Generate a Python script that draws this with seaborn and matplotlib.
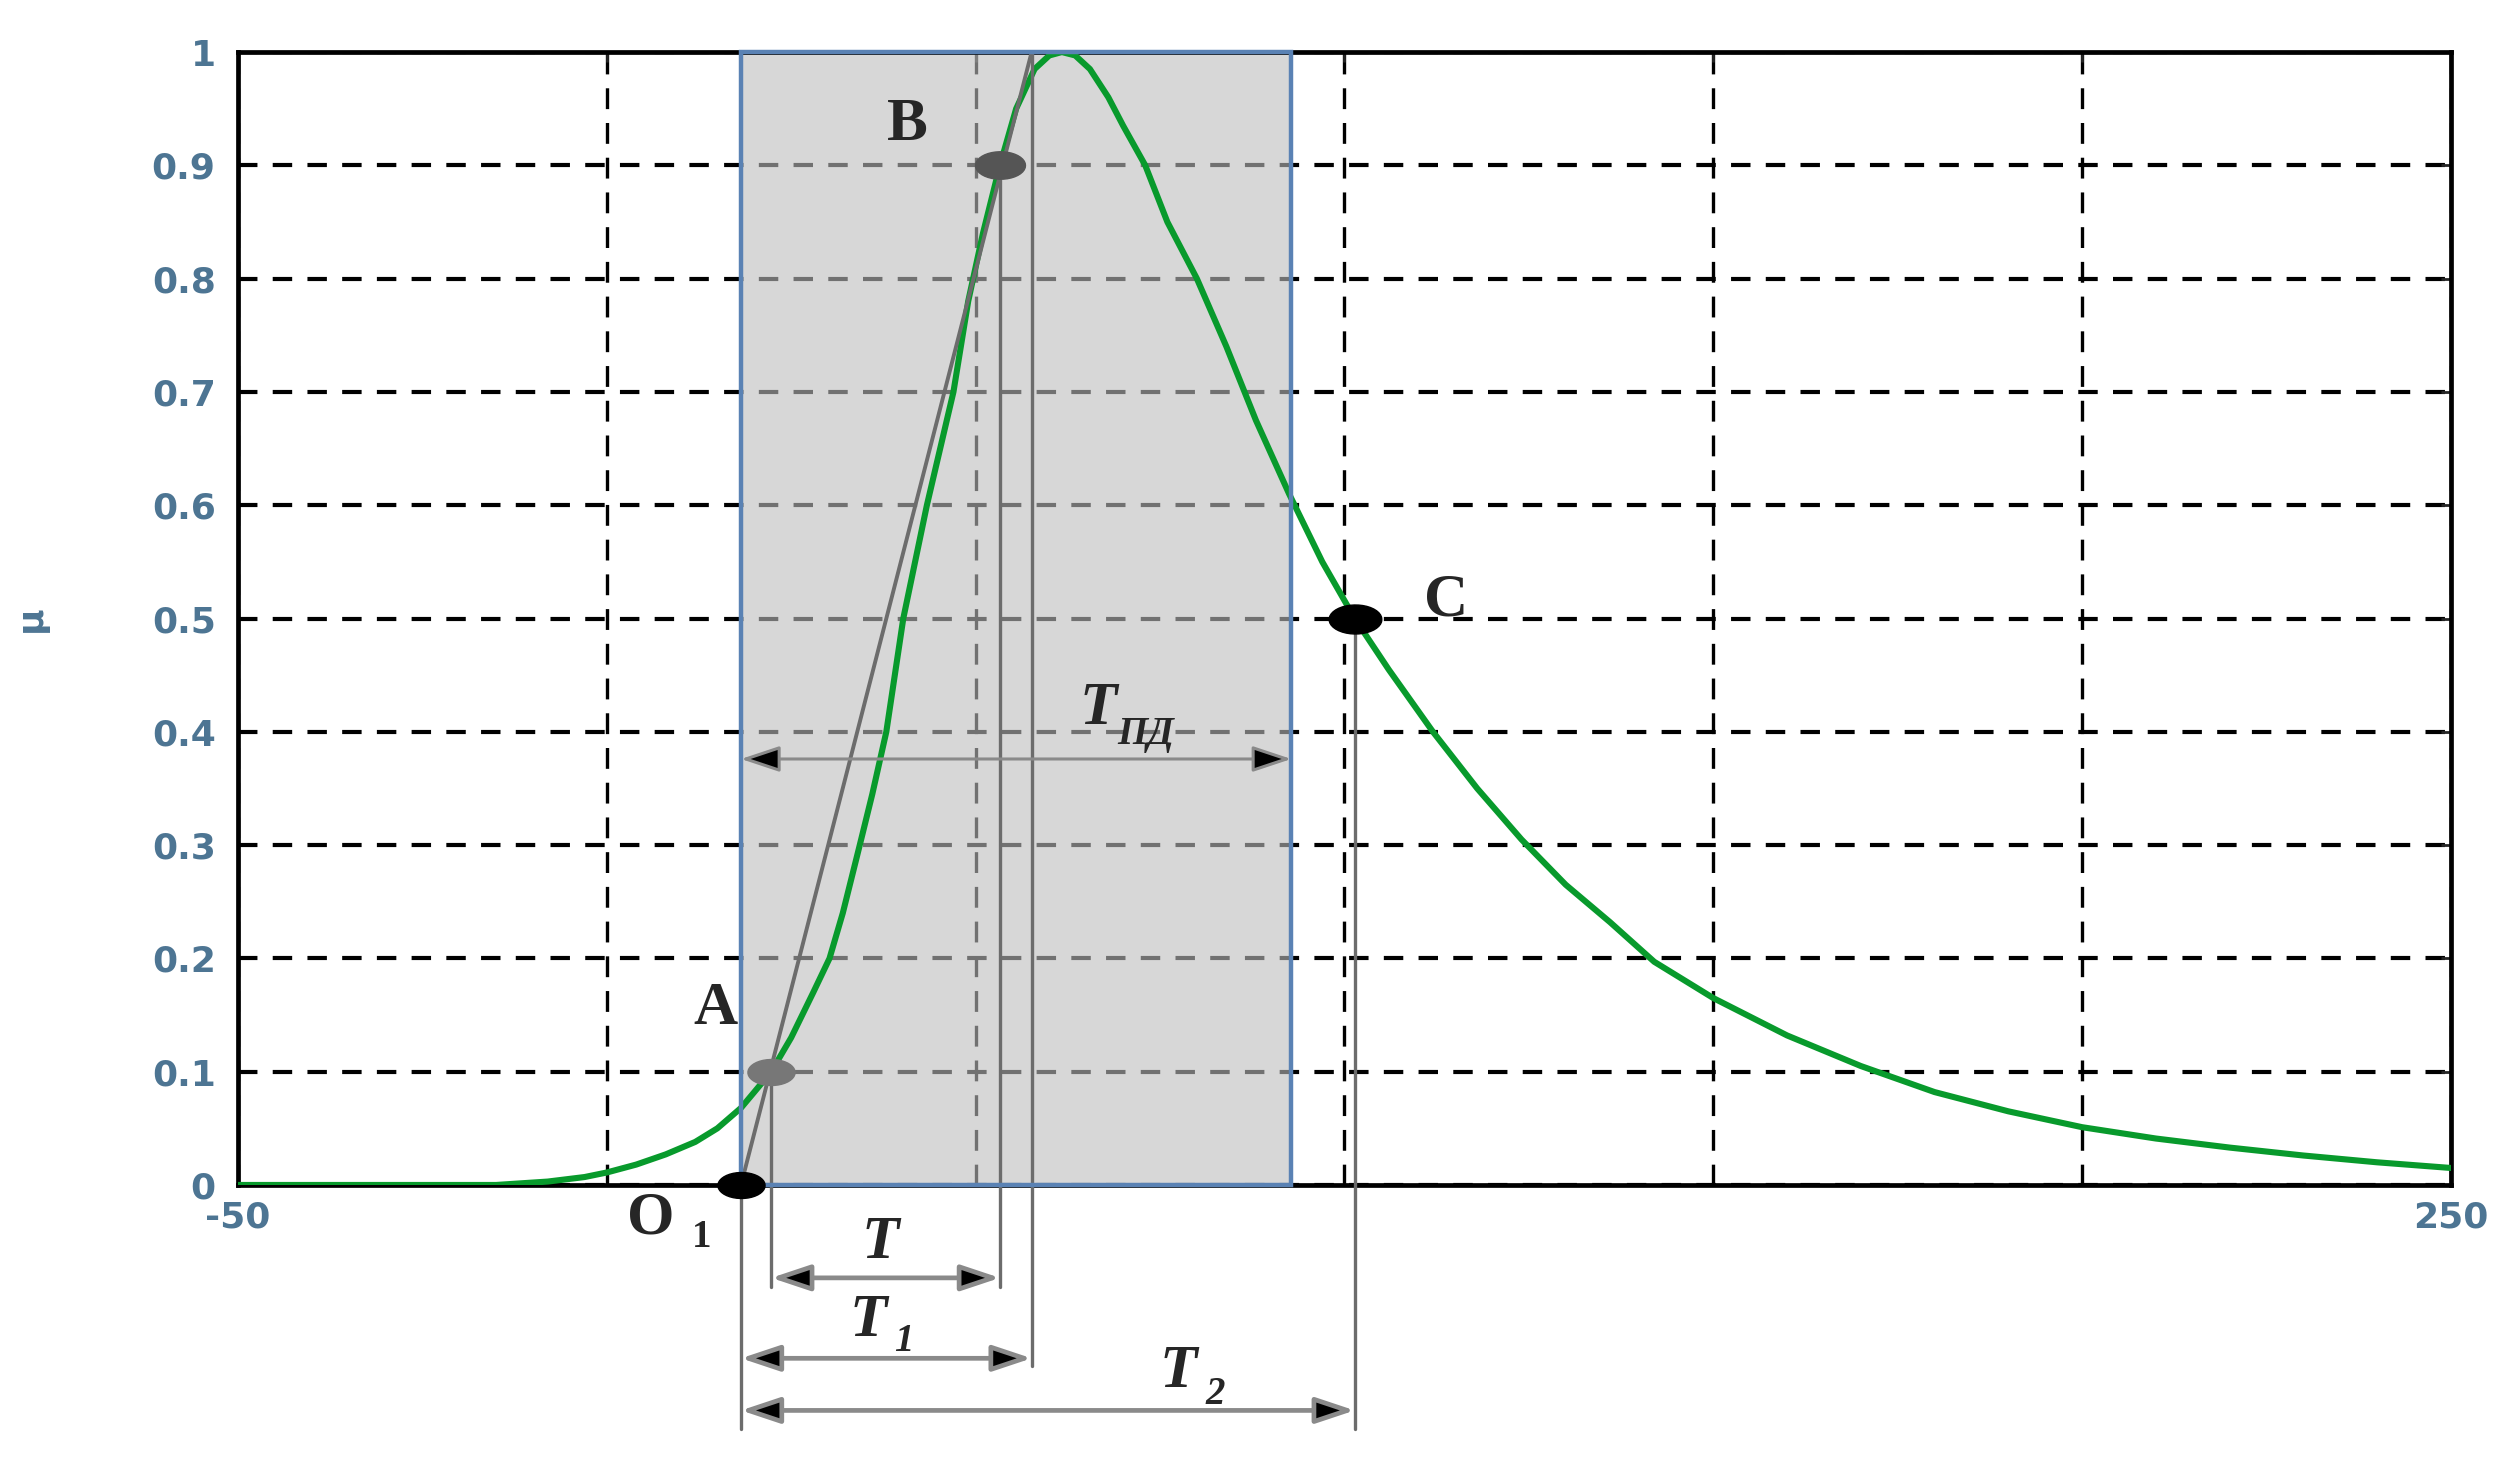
import numpy as np
import matplotlib
matplotlib.use("Agg")
import matplotlib.pyplot as plt
from matplotlib.patches import Rectangle
from matplotlib.path import Path
import seaborn as sns

# ── Data ─────────────────────────────────────────────────────────────────────
curve_x = [-50, -15, -8, -3, 0, 4, 8, 12, 15, 18.2, 20, 22.3, 25, 28, 30.2, 32,
           34.3, 36, 37.9, 40.2, 43.4, 47, 49, 51, 53.3, 55.5, 58, 60, 61.7, 63.5,
           65.5, 68, 70, 73, 76, 80, 84, 88, 92.5, 97, 101.4, 106, 112, 118,
           124, 130, 136, 142, 150, 160, 170, 180, 190, 200, 210, 220, 230, 240,
           250]
curve_mu = [0, 0, 0.003, 0.007, 0.011, 0.018, 0.027, 0.038, 0.05, 0.068, 0.082,
            0.1, 0.13, 0.17, 0.2, 0.24, 0.3, 0.345, 0.4, 0.5, 0.6, 0.7, 0.78,
            0.84, 0.9, 0.95, 0.985, 0.997, 1.0, 0.997, 0.985, 0.96, 0.935,
            0.9, 0.85, 0.8, 0.74, 0.675, 0.61, 0.55, 0.5, 0.455, 0.4, 0.35,
            0.305, 0.265, 0.232, 0.197, 0.165, 0.132, 0.105, 0.082, 0.065,
            0.051, 0.041, 0.033, 0.026, 0.02, 0.015]

o1_x, a_x, b_x, c_x = 18.2, 22.3, 53.3, 101.4
a_mu, b_mu, c_mu = 0.1, 0.9, 0.5
line_top_x = 57.6          # where the O1-A-B line reaches mu = 1
band_x = [18.2, 92.8]      # shaded T_ПД band

xticks = [-50, 0, 50, 100, 150, 200, 250]
xtick_labels = ["-50", "", "", "", "", "", "250"]
yticks = [0, 0.1, 0.2, 0.3, 0.4, 0.5, 0.6, 0.7, 0.8, 0.9, 1.0]
ytick_labels = ["0", "0.1", "0.2", "0.3", "0.4", "0.5", "0.6", "0.7", "0.8", "0.9", "1"]

# ── Style ────────────────────────────────────────────────────────────────────
sns.set_theme(style="white")
plt.rcParams.update({
    "font.family": ["DejaVu Sans"],
    "lines.scale_dashes": False,
})

GREEN = "#089a2c"
GREY = "#6c6c6c"
TICK_C = "#4d7593"
SERIF = "Liberation Serif"

fig = plt.figure(figsize=(25.2, 14.66), dpi=100)
ax = fig.add_axes([0.0944, 0.1917, 0.8782, 0.7728])

# shaded band (semi-transparent so the grid shows through)
ax.add_patch(Rectangle((band_x[0], 0), band_x[1] - band_x[0], 1,
                       facecolor="#bdbdbd", alpha=0.6, edgecolor="none", zorder=1))
ax.add_patch(Rectangle((band_x[0], 0), band_x[1] - band_x[0], 1, fill=False,
                       edgecolor="#5a82b4", lw=3.2, zorder=6, clip_on=False))

# membership curve
sns.lineplot(x=curve_x, y=curve_mu, ax=ax, color=GREEN, lw=4.4, zorder=4)

# line through O1, A, B
ax.plot([o1_x, line_top_x], [0, 1], color=GREY, lw=2.8, zorder=4.5)

# construction verticals
for xv, y0, y1 in [(o1_x, 0, -0.215), (a_x, a_mu, -0.09), (b_x, b_mu, -0.09),
                   (line_top_x, 1.0, -0.16), (c_x, c_mu, -0.215)]:
    ax.plot([xv, xv], [y0, y1], color=GREY, lw=2.4, zorder=4.5, clip_on=False)

# dimension arrows
for x0, x1, yv in [(a_x, b_x, -0.082), (o1_x, line_top_x, -0.153),
                   (o1_x, c_x, -0.199), (band_x[0], band_x[1], 0.376)]:
    ax.annotate("", xy=(x1, yv), xytext=(x0, yv), annotation_clip=False,
                arrowprops=dict(arrowstyle="<|-|>,head_length=0.6,head_width=0.2",
                                facecolor="black", edgecolor="#8a8a8a",
                                lw=3.4 if yv < 0 else 2.2,
                                mutation_scale=40, shrinkA=0, shrinkB=0),
                zorder=5)

# characteristic points (ellipse-shaped markers)
t = np.linspace(0, 2 * np.pi, 40)
ell = Path(np.column_stack([np.cos(t), 0.55 * np.sin(t)]))
ax.plot([o1_x], [0], marker=ell, ms=34, color="black", ls="none", zorder=7, clip_on=False)
ax.plot([a_x], [a_mu], marker=ell, ms=34, color="#777777", ls="none", zorder=7)
ax.plot([b_x], [b_mu], marker=ell, ms=36, color="#555555", ls="none", zorder=7)
ax.plot([c_x], [c_mu], marker=ell, ms=38, color="black", ls="none", zorder=7)

# labels
def put(x, y, main, sub=None, dx=5.2, dy=-0.02, italic=False):
    style = "italic" if italic else "normal"
    ax.text(x, y, main, family=SERIF, weight="bold", style=style, fontsize=44,
            ha="center", va="center", zorder=8, clip_on=False)
    if sub:
        ax.text(x + dx, y + dy, sub, family=SERIF, weight="bold", style=style,
                fontsize=28, ha="left", va="center", zorder=8, clip_on=False)

put(14.7, 0.155, "A")
put(40.8, 0.936, "B")
put(113.8, 0.516, "C")
put(6.0, -0.03, "O", "1", dx=5.5, dy=-0.016)
put(37.1, -0.051, "T", italic=True)
put(35.4, -0.12, "T", "1", dx=3.6, dy=-0.018, italic=True)
put(77.5, -0.165, "T", "2", dx=3.6, dy=-0.02, italic=True)
put(66.6, 0.42, "T", "ПД", dx=2.6, dy=-0.022, italic=True)

# axes, grid, ticks
ax.set_xlim(-50, 250)
ax.set_ylim(0, 1)
ax.set_xticks(xticks)
ax.set_xticklabels(xtick_labels)
ax.set_yticks(yticks)
ax.set_yticklabels(ytick_labels)
ax.set_axisbelow(True)
ax.xaxis.grid(True, color="black", lw=2.4, linestyle=(0, (15, 10)))
ax.yaxis.grid(True, color="black", lw=3.0, linestyle=(0, (14, 11)))
ax.tick_params(direction="in", length=7, width=2, top=True, right=True,
               labelsize=26, labelcolor=TICK_C)
ax.tick_params(axis="y", pad=16)
ax.tick_params(axis="x", pad=11)
for lbl in ax.get_xticklabels() + ax.get_yticklabels():
    lbl.set_fontweight("bold")
for sp in ax.spines.values():
    sp.set_visible(True)
    sp.set_color("black")
    sp.set_linewidth(3.4)

ax.set_ylabel("μ", fontsize=26, fontweight="bold", color=TICK_C)
ax.yaxis.set_label_coords(-0.086, 0.5)
ax.set_xlabel("")

fig.savefig("out.png", dpi=100)
